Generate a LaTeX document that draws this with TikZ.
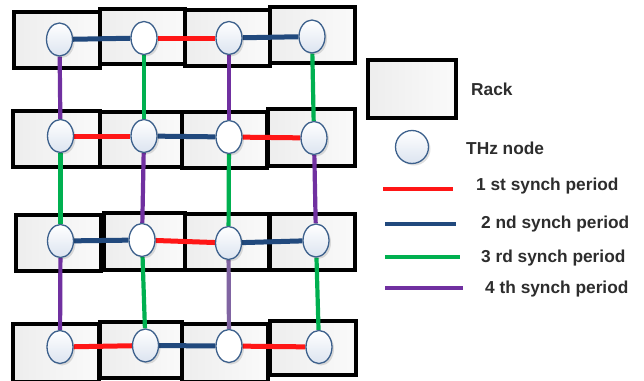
\documentclass[tikz,border=0pt]{standalone}
\usepackage{fontspec}
\setmainfont{Liberation Sans}
\usetikzlibrary{shapes.geometric,shadows}
\definecolor{sred}{RGB}{255,22,22}
\definecolor{sblue}{RGB}{33,73,125}
\definecolor{sgreen}{RGB}{0,176,80}
\definecolor{spurple}{RGB}{112,48,160}
\definecolor{slpurple}{RGB}{128,100,162}
\definecolor{nodeedge}{RGB}{60,96,140}
\definecolor{nodebot}{RGB}{220,228,240}
\definecolor{txt}{RGB}{45,45,45}
\pgfdeclarelayer{racks}
\pgfdeclarelayer{edges}
\pgfsetlayers{racks,edges,main}
\tikzset{
  rackbox/.style={draw=black, line width=3.3pt, left color=black!7, right color=black!2,
    drop shadow={shadow xshift=2pt, shadow yshift=-2pt, fill=black, opacity=0.12}},
  thz/.style={ellipse, draw=nodeedge, line width=1.3pt, minimum width=26pt, minimum height=33pt,
    inner sep=0pt, top color=white, bottom color=nodebot,
    drop shadow={shadow xshift=2pt, shadow yshift=-2pt, fill=black, opacity=0.12}},
  thzw/.style={thz, top color=white, bottom color=white},
  link/.style={line width=5pt},
  r/.style={link, draw=sred},
  b/.style={link, draw=sblue},
  g/.style={link, draw=sgreen, line width=4.2pt},
  p/.style={link, draw=spurple, line width=4.2pt},
  lbl/.style={anchor=west, inner sep=0pt, text=txt, font=\bfseries\fontsize{17.3}{20}\selectfont}
}
\begin{document}
\begin{tikzpicture}[x=1pt,y=-1pt]
\clip (0,0) rectangle (644,380);
\begin{pgfonlayer}{racks}
\fill[white] (0,0) rectangle (644,380);
% row 1
\node[rackbox, minimum width=86pt, minimum height=56pt, inner sep=0pt] (r11) at (57,40) {};
\node[rackbox, minimum width=85pt, minimum height=55pt, inner sep=0pt] (r12) at (142.5,36.5) {};
\node[rackbox, minimum width=85pt, minimum height=56pt, inner sep=0pt] (r13) at (227.5,38) {};
\node[rackbox, minimum width=85pt, minimum height=56pt, inner sep=0pt] (r14) at (312.5,35) {};
% row 2
\node[rackbox, minimum width=87pt, minimum height=56pt, inner sep=0pt] (r21) at (56.5,139) {};
\node[rackbox, minimum width=82pt, minimum height=55pt, inner sep=0pt] (r22) at (141,139.5) {};
\node[rackbox, minimum width=85pt, minimum height=56pt, inner sep=0pt] (r23) at (224.5,140) {};
\node[rackbox, minimum width=87pt, minimum height=57pt, inner sep=0pt] (r24) at (311.5,137.5) {};
% row 3
\node[rackbox, minimum width=85pt, minimum height=56pt, inner sep=0pt] (r31) at (58.5,243) {};
\node[rackbox, minimum width=81pt, minimum height=57pt, inner sep=0pt] (r32) at (144.5,241.5) {};
\node[rackbox, minimum width=84pt, minimum height=56pt, inner sep=0pt] (r33) at (227,242) {};
\node[rackbox, minimum width=85pt, minimum height=56pt, inner sep=0pt] (r34) at (312.5,242) {};
% row 4
\node[rackbox, minimum width=86pt, minimum height=58pt, inner sep=0pt] (r41) at (56,353) {};
\node[rackbox, minimum width=82pt, minimum height=56pt, inner sep=0pt] (r42) at (141,350) {};
\node[rackbox, minimum width=86pt, minimum height=58pt, inner sep=0pt] (r43) at (225,353) {};
\node[rackbox, minimum width=86pt, minimum height=54pt, inner sep=0pt] (r44) at (313,348) {};
% legend rack
\node[rackbox, minimum width=88pt, minimum height=58pt, inner sep=0pt] (lrack) at (412,89) {};
\end{pgfonlayer}
% nodes
\node[thz]  (n11) at (59.5,39.5) {};
\node[thzw] (n12) at (144,38) {};
\node[thz]  (n13) at (229,38) {};
\node[thz]  (n14) at (312,36.5) {};
\node[thz]  (n21) at (60.5,136) {};
\node[thz]  (n22) at (144,136) {};
\node[thzw] (n23) at (229,137) {};
\node[thz]  (n24) at (314,138) {};
\node[thz]  (n31) at (60.5,241) {};
\node[thzw] (n32) at (142,240) {};
\node[thz]  (n33) at (228.5,243) {};
\node[thz]  (n34) at (316,240.5) {};
\node[thz]  (n41) at (60,347) {};
\node[thz]  (n42) at (145.5,345.5) {};
\node[thzw] (n43) at (229,346) {};
\node[thz]  (n44) at (319,347) {};
% legend node
\node[thz, circle, minimum size=33pt] (lnode) at (412,147) {};
\begin{pgfonlayer}{edges}
% horizontal
\draw[b] (n11) -- (n12); \draw[r] (n12) -- (n13); \draw[b] (n13) -- (n14);
\draw[r] (n21) -- (n22); \draw[b] (n22) -- (n23); \draw[r] (n23) -- (n24);
\draw[b] (n31) -- (n32); \draw[r] (n32) -- (n33); \draw[b] (n33) -- (n34);
\draw[r] (n41) -- (n42); \draw[b] (n42) -- (n43); \draw[r] (n43) -- (n44);
% vertical
\draw[p] (n11) -- (n21); \draw[g] (n12) -- (n22); \draw[p] (n13) -- (n23); \draw[g] (n14) -- (n24);
\draw[g] (n21) -- (n31); \draw[p] (n22) -- (n32); \draw[g] (n23) -- (n33); \draw[p] (n24) -- (n34);
\draw[p] (n31) -- (n41); \draw[g] (n32) -- (n42); \draw[p, draw=slpurple] (n33) -- (n43); \draw[g] (n34) -- (n44);
\end{pgfonlayer}
% legend lines
\coordinate (la1) at (383,189); \coordinate (la2) at (453,189);
\coordinate (lb1) at (385,224); \coordinate (lb2) at (456,224);
\coordinate (lc1) at (385,257); \coordinate (lc2) at (460,257);
\coordinate (ld1) at (385,288); \coordinate (ld2) at (463,288);
\draw[r, line width=4.5pt] (la1) -- (la2);
\draw[b, line width=4.5pt] (lb1) -- (lb2);
\draw[g, line width=4.5pt] (lc1) -- (lc2);
\draw[p, line width=4.5pt] (ld1) -- (ld2);
% legend text
\node[lbl] (t1) at (471,89) {Rack};
\node[lbl] (t2) at (466,148) {THz node};
\node[lbl] (t3) at (476,186) {1 st synch period};
\node[lbl] (t4) at (481,224) {2 nd synch period};
\node[lbl] (t5) at (481,258) {3 rd synch period};
\node[lbl] (t6) at (485,289) {4 th synch period};
\end{tikzpicture}
\end{document}
